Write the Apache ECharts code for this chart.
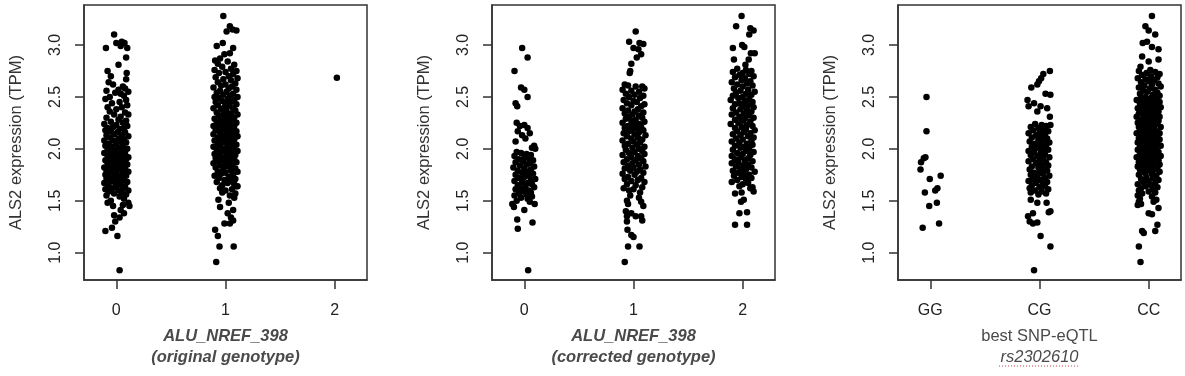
<!DOCTYPE html>
<html>
<head>
<meta charset="utf-8">
<script src="https://cdn.jsdelivr.net/npm/echarts@6/dist/echarts.min.js"></script>
<style>
  html, body { margin: 0; padding: 0; background: #fff; }
  #main { width: 1185px; height: 376px; }
</style>
</head>
<body>
<div id="main"></div>
<script>
// jittered points as [offset from group position, ALS2 TPM]
var orig0 = [[-.02,3.10],[-.095,2.97],[0,3.02],[.05,3.03],[.075,3.02],[.04,2.99],[.10,2.97],[.09,2.88],[.02,2.81],
  [-.08,2.75],[.095,2.73],[-.05,2.70],[.09,2.67],[-.07,2.64],[-.03,2.62],[.06,2.60],[.08,2.58],[.02,2.57],[-.09,2.56],[.11,2.55],[.04,2.53],[-.01,2.54],[.07,2.51],[-.06,2.50],
  [-.10,2.48],[.09,2.47],[.03,2.45],[-.04,2.44],[.10,2.42],[-.08,2.40],[.05,2.40],[0,2.38],[-.06,2.36],[.08,2.35],[.11,2.33],[-.02,2.33],[.04,2.31],[-.09,2.30],[.02,2.28],[.09,2.27],[-.05,2.26],[.06,2.25],[-.11,2.24],[0,2.23],[.10,2.22],[-.03,2.21],[.07,2.20],[-.08,2.20],
  [.03,2.19],[-.10,2.18],[-.05,2.17],[.01,2.16],[.08,2.16],[-.02,2.14],[.05,2.13],[-.09,2.13],[.11,2.12],[-.06,2.11],[.02,2.10],[.07,2.09],[-.11,2.08],[-.03,2.08],[.04,2.07],[.09,2.06],[-.07,2.05],[0,2.05],[.06,2.03],[-.10,2.03],[-.04,2.02],[.03,2.01],[.10,2.00],[-.08,1.99],[-.01,1.99],[.05,1.98],[-.05,1.97],[.08,1.96],[-.11,1.96],[.01,1.95],[-.03,1.94],[.06,1.93],[-.08,1.93],[.11,1.92],[.03,1.91],[-.06,1.91],[-.01,1.90],[.09,1.90],
  [-.10,1.89],[.04,1.88],[-.04,1.88],[.07,1.87],[0,1.86],[-.08,1.86],[.10,1.85],[-.02,1.84],[.05,1.84],[-.06,1.83],[.02,1.82],[-.11,1.82],[.08,1.81],[-.03,1.80],[.04,1.80],[-.09,1.79],[0,1.78],[.11,1.78],[-.05,1.77],[.06,1.76],[-.01,1.76],[-.10,1.75],[.03,1.74],[.09,1.74],[-.07,1.73],[-.02,1.72],[.05,1.72],[-.09,1.71],[.01,1.70],[.07,1.70],[-.05,1.69],[.10,1.68],[-.11,1.67],[-.01,1.67],[.04,1.66],[-.07,1.65],[.08,1.64],[0,1.63],[-.04,1.62],[.06,1.62],[-.10,1.61],[.02,1.60],[.11,1.60],
  [-.07,1.59],[.05,1.58],[-.02,1.57],[.09,1.56],[-.09,1.55],[.03,1.54],[.07,1.52],[-.05,1.50],[.11,1.48],[-.08,1.48],[.06,1.46],[-.03,1.45],[.12,1.45],
  [.04,1.41],[.07,1.38],[-.02,1.36],[.03,1.34],[-.01,1.30],[-.10,1.21],[-.04,1.24],[.01,1.16],[.03,0.83]];

var orig1 = [[-.02,3.28],[.04,3.18],[.065,3.15],[.10,3.14],[.01,3.13],[-.025,3.02],[-.08,2.99],[.07,2.97],[.04,2.92],[-.01,2.91],[-.05,2.87],[-.095,2.85],
  [.02,2.84],[-.07,2.82],[.08,2.81],[-.03,2.79],[.05,2.77],[-.10,2.76],[.10,2.75],[0,2.74],[-.06,2.73],[.07,2.72],[.03,2.70],[-.09,2.69],[.11,2.68],[-.02,2.67],[.05,2.66],[-.07,2.64],[.09,2.63],[0,2.62],[-.04,2.61],[.06,2.60],[-.11,2.59],[.03,2.58],[.10,2.57],[-.05,2.56],[.01,2.55],[-.08,2.54],[.07,2.53],[-.02,2.52],[.04,2.51],[.11,2.50],[-.10,2.50],
  [-.06,2.49],[.02,2.48],[.08,2.47],[-.03,2.46],[-.09,2.45],[.05,2.45],[0,2.44],[.10,2.43],[-.07,2.42],[.03,2.41],[-.01,2.40],[.07,2.39],[-.11,2.39],[-.04,2.38],[.09,2.37],[.01,2.36],[-.08,2.35],[.05,2.34],[-.02,2.33],[.11,2.33],[-.06,2.32],[.03,2.31],[.08,2.30],[-.10,2.29],[-.01,2.29],[.06,2.28],[-.05,2.27],[.02,2.26],[.10,2.25],[-.08,2.25],[-.03,2.24],[.04,2.23],[-.11,2.22],[.08,2.22],[0,2.21],[-.06,2.20],[.06,2.20],
  [-.02,2.19],[.03,2.18],[-.09,2.18],[.10,2.17],[-.05,2.16],[.01,2.15],[.07,2.15],[-.11,2.14],[-.03,2.13],[.05,2.12],[.11,2.12],[-.07,2.11],[0,2.10],[.08,2.09],[-.04,2.09],[-.10,2.08],[.03,2.07],[.06,2.06],[-.01,2.06],[-.07,2.05],[.10,2.04],[.02,2.03],[-.05,2.03],[-.11,2.02],[.07,2.01],[-.02,2.00],[.04,2.00],[-.08,1.99],[.11,1.98],[0,1.98],[-.04,1.97],[.06,1.96],[-.10,1.95],[.02,1.95],[.09,1.94],[-.06,1.93],[-.01,1.92],[.05,1.92],[-.09,1.91],[.08,1.90],[.01,1.90],
  [-.03,1.89],[-.07,1.88],[.04,1.88],[.10,1.87],[-.11,1.86],[0,1.85],[.06,1.84],[-.05,1.84],[.02,1.83],[-.09,1.82],[.09,1.81],[-.02,1.80],[.05,1.79],[-.07,1.78],[.11,1.78],[0,1.77],[-.04,1.76],[.07,1.75],[-.10,1.74],[.03,1.73],[-.06,1.72],[.09,1.71],[-.01,1.70],[.05,1.69],[-.08,1.68],[.02,1.67],[.08,1.66],[-.03,1.65],[.10,1.64],[-.05,1.62],[.06,1.61],[0,1.60],
  [.09,1.57],[.11,1.64],[-.03,1.58],[.04,1.55],[-.065,1.51],[.03,1.48],[-.05,1.44],[.08,1.53],[.07,1.41],[.02,1.38],[.05,1.34],[-.01,1.28],[.04,1.28],[.07,1.31],[-.095,1.22],[-.07,1.16],[-.055,1.06],[.075,1.06],[-.085,0.91]];

var orig2 = [[.02,2.685]];

var corr0 = [[-.02,2.97],[.03,2.88],[-.09,2.75],[-.03,2.59],[0,2.57],[.03,2.50],[-.08,2.44],[-.065,2.41],
  [-.07,2.25],[-.04,2.22],[0,2.23],[.03,2.20],[-.06,2.17],[.05,2.15],[-.02,2.13],[.01,2.10],[.09,2.03],[.10,2.00],[-.08,2.07],[.07,2.01],
  [-.07,1.97],[-.03,1.96],[.02,1.95],[.06,1.94],[-.09,1.93],[0,1.92],[.04,1.91],[-.05,1.90],[.08,1.89],[-.01,1.88],[-.08,1.87],[.05,1.86],[.02,1.85],[-.04,1.84],[.09,1.83],[-.10,1.82],[0,1.81],[.06,1.80],[-.06,1.79],[.03,1.78],[-.02,1.77],[.08,1.76],[-.08,1.75],[.04,1.74],[0,1.73],[-.05,1.72],[.10,1.71],[.06,1.70],[-.09,1.69],[-.02,1.68],[.03,1.67],[.07,1.66],[-.06,1.65],[.01,1.64],[.09,1.63],[-.03,1.62],[-.08,1.61],[.04,1.60],[-.01,1.59],[.06,1.58],[-.05,1.57],[.02,1.56],[-.09,1.55],[.07,1.54],[-.03,1.53],[.03,1.52],[-.07,1.50],[.05,1.49],[-.11,1.47],
  [-.095,1.44],[0,1.41],[.095,1.47],[-.065,1.32],[.075,1.29],[-.06,1.23],[.035,0.83]];

var corr1 = [[.02,3.13],[-.04,3.03],[.055,3.02],[.09,3.01],[0,2.97],[.045,2.96],[.07,2.91],[.03,2.88],[-.02,2.82],[-.03,2.75],[-.035,2.73],
  [-.08,2.62],[-.05,2.61],[.02,2.60],[.08,2.60],[.10,2.58],[-.10,2.57],[-.02,2.56],[.05,2.55],[-.07,2.53],[.01,2.52],[.09,2.51],[-.04,2.50],[.06,2.49],[-.09,2.47],[0,2.46],[.03,2.45],[-.06,2.44],[.10,2.43],[-.02,2.42],[.07,2.41],[-.10,2.39],[.04,2.38],[-.05,2.37],[.01,2.36],[.09,2.35],[-.08,2.34],[-.01,2.33],[.05,2.32],[-.04,2.31],[.08,2.30],
  [-.07,2.29],[.02,2.28],[-.02,2.27],[.10,2.26],[-.10,2.25],[.05,2.24],[0,2.23],[-.05,2.22],[.07,2.21],[-.08,2.20],[.03,2.20],[-.01,2.19],[.09,2.18],[-.04,2.17],[.05,2.16],[-.09,2.15],[.01,2.14],[.11,2.13],[-.06,2.12],[.04,2.11],[-.02,2.10],[.08,2.09],[-.10,2.08],[0,2.07],[.06,2.06],[-.05,2.05],[.03,2.04],[-.08,2.03],[.10,2.02],[-.01,2.01],[.05,2.00],
  [-.07,1.99],[.08,1.98],[.01,1.97],[-.04,1.96],[.10,1.95],[-.10,1.94],[.04,1.93],[-.02,1.92],[.07,1.91],[-.06,1.90],[.02,1.89],[.09,1.88],[-.09,1.87],[-.01,1.86],[.05,1.85],[-.05,1.84],[.11,1.83],[0,1.82],[-.08,1.81],[.06,1.80],[-.03,1.79],[.03,1.78],[.09,1.77],[-.10,1.76],[.01,1.75],[-.05,1.73],[.07,1.72],[-.08,1.71],[.04,1.70],[-.02,1.69],[.10,1.68],[-.06,1.66],[.02,1.65],[.08,1.63],[-.09,1.62],[0,1.61],[-.04,1.60],[.06,1.58],
  [-.03,1.55],[.05,1.53],[-.06,1.50],[-.05,1.47],[.07,1.49],[.09,1.45],[-.07,1.40],[-.02,1.38],[-.06,1.35],[.02,1.35],[.07,1.35],[-.06,1.30],[.08,1.31],[-.055,1.22],[-.02,1.17],[0,1.15],[-.05,1.06],[.055,1.06],[-.08,0.91]];

var corr2 = [[-.01,3.28],[-.06,3.18],[.07,3.16],[.10,3.14],[.06,3.10],[-.09,2.97],[-.005,3.00],[.015,2.98],[.075,2.92],[.11,2.92],[-.08,2.86],[.055,2.86],[.025,2.81],
  [-.05,2.77],[.03,2.76],[.08,2.75],[-.09,2.74],[0,2.73],[.06,2.72],[-.03,2.71],[.10,2.70],[-.07,2.69],[.02,2.68],[-.01,2.66],[.07,2.65],[-.10,2.64],[.04,2.63],[-.05,2.62],[.09,2.61],[0,2.60],[-.08,2.58],[.05,2.57],[-.02,2.56],[.11,2.55],[-.06,2.54],[.03,2.53],[.08,2.52],[-.09,2.51],[0,2.50],[-.04,2.49],[.06,2.48],[-.11,2.47],[.02,2.46],[.09,2.45],[-.03,2.44],[-.07,2.43],[.05,2.42],[0,2.41],[.10,2.40],
  [-.09,2.39],[-.02,2.38],[.04,2.37],[.08,2.36],[-.06,2.35],[.01,2.34],[-.10,2.33],[.06,2.32],[-.03,2.31],[.10,2.30],[.02,2.29],[-.07,2.28],[0,2.27],[.07,2.26],[-.04,2.25],[-.11,2.24],[.04,2.23],[.09,2.22],[-.01,2.21],[-.07,2.20],[.03,2.19],[.11,2.18],[-.05,2.17],[.01,2.16],[.07,2.15],[-.09,2.14],[-.02,2.13],[.05,2.12],[.10,2.11],[-.06,2.10],[0,2.09],[.08,2.08],[-.10,2.07],[-.03,2.06],[.04,2.05],[.09,2.04],[-.07,2.03],[.01,2.02],[-.02,2.01],[.06,2.00],
  [-.09,1.99],[.03,1.98],[.10,1.97],[-.05,1.96],[0,1.95],[.07,1.94],[-.10,1.93],[-.02,1.92],[.05,1.91],[-.07,1.90],[.02,1.89],[.09,1.88],[-.04,1.87],[-.10,1.86],[.05,1.85],[0,1.84],[-.06,1.83],[.08,1.82],[-.02,1.81],[.03,1.80],[-.09,1.79],[.11,1.78],[-.04,1.77],[.01,1.76],[.06,1.75],[-.08,1.74],[-.01,1.73],[.08,1.72],[.03,1.71],[-.05,1.70],[-.10,1.68],[.05,1.67],[0,1.66],[-.03,1.64],[.09,1.63],
  [-.07,1.57],[-.01,1.58],[.07,1.62],[.10,1.59],[-.015,1.49],[.01,1.51],[-.03,1.38],[.04,1.39],[-.07,1.27],[.04,1.27]];

var snpGG = [[-.035,2.50],[-.035,2.17],[-.06,1.91],[-.045,1.92],[-.085,1.87],[-.09,1.80],[-.005,1.71],[.095,1.74],[-.05,1.58],[.045,1.60],[.065,1.62],[.06,1.48],[-.01,1.45],[-.07,1.24],[.08,1.28]];

var snpCG = [[.095,2.75],[.035,2.72],[.015,2.68],[-.005,2.65],[-.075,2.59],[-.02,2.62],[.055,2.53],[.10,2.52],[-.11,2.47],[-.05,2.44],[-.10,2.41],[.01,2.41],[.07,2.39],[-.02,2.36],[.095,2.31],[.10,2.23],
  [-.04,2.24],[.02,2.23],[.06,2.22],[-.08,2.21],[-.01,2.20],[.04,2.19],[-.06,2.18],[.08,2.17],[0,2.16],[-.10,2.15],[.05,2.14],[-.03,2.13],[.02,2.12],[-.07,2.11],[.07,2.10],[-.01,2.09],[.04,2.08],[-.09,2.07],[.09,2.06],[-.04,2.05],[.01,2.04],[.06,2.03],[-.07,2.02],[-.02,2.01],[.03,2.00],[.08,1.99],[-.10,1.98],[-.05,1.97],[.01,1.96],[.05,1.95],[-.08,1.94],[-.02,1.93],[.09,1.92],[.03,1.91],[-.06,1.90],[0,1.89],[-.10,1.88],[.06,1.87],[-.03,1.86],[.02,1.85],[.08,1.84],[-.07,1.83],[-.01,1.82],[.04,1.81],[-.09,1.80],[.07,1.79],[0,1.78],[-.05,1.77],[.03,1.76],[-.08,1.75],[.09,1.74],[-.02,1.73],[.05,1.72],[-.06,1.71],[.01,1.70],[-.10,1.69],[.07,1.68],[-.03,1.67],[.03,1.66],[-.07,1.65],[.05,1.64],[0,1.63],[-.09,1.62],[.08,1.61],[-.04,1.60],[.02,1.59],[-.08,1.58],[.06,1.57],[-.01,1.56],
  [-.08,1.51],[-.02,1.48],[.065,1.48],[.085,1.39],[.10,1.40],[-.06,1.38],[-.105,1.35],[-.09,1.30],[-.06,1.28],[-.02,1.29],[.01,1.16],[.10,1.06],[-.05,0.83]];

var snpCC = [[.03,3.28],[-.03,3.18],[0,3.14],[.06,3.10],[-.055,3.02],[-.015,3.03],[.03,2.98],[.09,2.96],[-.06,2.89],[0,2.84],[.09,2.86],[-.075,2.79],[.015,2.76],
  [-.09,2.75],[.06,2.74],[-.02,2.73],[.10,2.72],[-.06,2.71],[.02,2.70],[.08,2.69],[-.10,2.68],[-.03,2.67],[.05,2.66],[0,2.65],[-.07,2.64],[.09,2.63],[.03,2.62],[-.04,2.61],[.11,2.60],[-.09,2.59],[.01,2.58],[.06,2.57],[-.05,2.56],[-.01,2.55],[.08,2.54],[-.08,2.53],[.04,2.52],[.10,2.51],[-.03,2.50],
  [.02,2.49],[-.07,2.49],[.07,2.48],[-.11,2.47],[0,2.47],[.05,2.46],[-.04,2.45],[.10,2.45],[-.08,2.44],[.03,2.43],[-.01,2.43],[.08,2.42],[-.06,2.41],[.01,2.41],[.11,2.40],[-.10,2.39],[-.03,2.39],[.06,2.38],[.02,2.37],[-.07,2.37],[.09,2.36],[-.02,2.35],[.04,2.35],[-.09,2.34],[.07,2.33],[-.05,2.33],[0,2.32],[.10,2.31],[-.11,2.31],[.03,2.30],[-.03,2.29],[.06,2.29],[-.07,2.28],[.01,2.27],[.09,2.27],[-.04,2.26],[-.10,2.25],[.04,2.25],[.08,2.24],[-.01,2.23],[-.06,2.23],[.02,2.22],[.11,2.21],[-.09,2.21],[.05,2.20],[-.03,2.19],[0,2.19],[-.08,2.18],[.07,2.17],[.03,2.17],[-.05,2.16],[.10,2.15],[-.11,2.15],[-.01,2.14],[.05,2.13],[-.07,2.13],[.08,2.12],[.01,2.11],[-.04,2.11],[-.09,2.10],[.06,2.09],[.10,2.09],[-.02,2.08],[.03,2.07],[-.06,2.07],[-.10,2.06],[.08,2.05],[0,2.05],[-.04,2.04],[.05,2.03],[.11,2.03],[-.08,2.02],[-.01,2.01],[.02,2.01],[.07,2.00],[-.06,2.00],
  [-.10,1.99],[.04,1.99],[-.02,1.98],[.09,1.97],[-.05,1.97],[.01,1.96],[.06,1.95],[-.08,1.95],[-.03,1.94],[.11,1.93],[.03,1.93],[-.11,1.92],[-.01,1.91],[.07,1.91],[-.06,1.90],[.02,1.89],[.09,1.89],[-.04,1.88],[-.09,1.87],[.05,1.87],[0,1.86],[.10,1.85],[-.07,1.85],[-.02,1.84],[.04,1.83],[-.10,1.83],[.08,1.82],[-.05,1.81],[.01,1.81],[.06,1.80],[-.08,1.80],
  [-.01,1.79],[.10,1.78],[-.04,1.77],[.03,1.76],[-.09,1.75],[.07,1.74],[-.02,1.73],[.04,1.72],[-.07,1.71],[.09,1.70],[0,1.69],[-.05,1.68],[.06,1.67],[-.10,1.66],[.02,1.65],[-.03,1.64],[.08,1.63],[-.07,1.62],[.04,1.61],[-.09,1.60],[0,1.59],[.06,1.58],[-.06,1.57],[-.10,1.55],[.03,1.54],[-.08,1.52],[.07,1.51],[-.09,1.49],[-.07,1.47],[-.10,1.46],
  [0,1.38],[.03,1.37],[.09,1.43],[.045,1.49],[.08,1.27],[.06,1.21],[-.045,1.19],[-.06,1.21],[-.09,1.06],[-.075,0.91]];

var xTicks = [0, 1, 2];
var yTicks = [1.0, 1.5, 2.0, 2.5, 3.0];
var snpLabels = ['GG', 'CG', 'CC'];
var xNames = ['ALU_NREF_398\n(original genotype)', 'ALU_NREF_398\n(corrected genotype)', 'best SNP-eQTL\n{it|rs2302610}'];
var yName = 'ALS2 expression (TPM)';

function place(groups) {
  var out = [];
  groups.forEach(function (g, i) {
    g.forEach(function (p) { out.push([i + p[0], p[1]]); });
  });
  return out;
}

var panels = [
  place([orig0, orig1, orig2]),
  place([corr0, corr1, corr2]),
  place([snpGG, snpCG, snpCC])
];
var lefts = [84, 492, 898];
var FONT = '"Liberation Sans", Arial, sans-serif';

var grids = [], xAxes = [], yAxes = [], series = [];
panels.forEach(function (pts, i) {
  grids.push({
    left: lefts[i], top: 5, width: 283, height: 275,
    show: true, borderColor: '#333', borderWidth: 1.5, backgroundColor: 'transparent'
  });
  xAxes.push({
    gridIndex: i, type: 'value', min: -0.296, max: 2.296,
    axisLine: { show: true, onZero: false, lineStyle: { color: '#333', width: 1.5 } },
    axisTick: { show: true, customValues: xTicks, length: 9, lineStyle: { color: '#333', width: 1.5 } },
    axisLabel: {
      customValues: xTicks, margin: 23, fontSize: 16, color: '#222', fontFamily: FONT,
      formatter: function (v) { return i === 2 ? snpLabels[Math.round(v)] : String(Math.round(v)); }
    },
    splitLine: { show: false },
    name: xNames[i], nameLocation: 'middle', nameGap: 46,
    nameTextStyle: {
      fontSize: 16.5, color: '#4a4a4a', fontFamily: FONT, lineHeight: 21,
      fontStyle: i === 2 ? 'normal' : 'italic', fontWeight: i === 2 ? 'normal' : 'bold',
      rich: { it: { fontSize: 16.5, color: '#4a4a4a', fontFamily: FONT, fontStyle: 'italic', lineHeight: 21 } }
    }
  });
  yAxes.push({
    gridIndex: i, type: 'value', min: 0.737, max: 3.385,
    axisLine: { show: true, onZero: false, lineStyle: { color: '#333', width: 1.5 } },
    axisTick: { show: true, customValues: yTicks, length: 9, lineStyle: { color: '#333', width: 1.5 } },
    axisLabel: {
      customValues: yTicks, rotate: 90, margin: 20, fontSize: 16, color: '#222', fontFamily: FONT,
      formatter: function (v) { return v.toFixed(1); }
    },
    splitLine: { show: false },
    name: yName, nameLocation: 'middle', nameRotate: 90, nameGap: 59,
    nameTextStyle: { fontSize: 16.5, color: '#333', fontFamily: FONT }
  });
  series.push({
    type: 'scatter', xAxisIndex: i, yAxisIndex: i,
    symbol: 'circle', symbolSize: 6.5,
    itemStyle: { color: '#000', opacity: 1 },
    data: pts, silent: true
  });
});

var chart = echarts.init(document.getElementById('main'), null, { renderer: 'canvas' });
chart.setOption({
  animation: false,
  grid: grids,
  xAxis: xAxes,
  yAxis: yAxes,
  series: series,
  graphic: [{
    type: 'line', silent: true,
    shape: { x1: 999, y1: 366, x2: 1079, y2: 366 },
    style: { stroke: '#d04040', lineWidth: 1, lineDash: [1, 2] }
  }]
});
</script>
</body>
</html>
